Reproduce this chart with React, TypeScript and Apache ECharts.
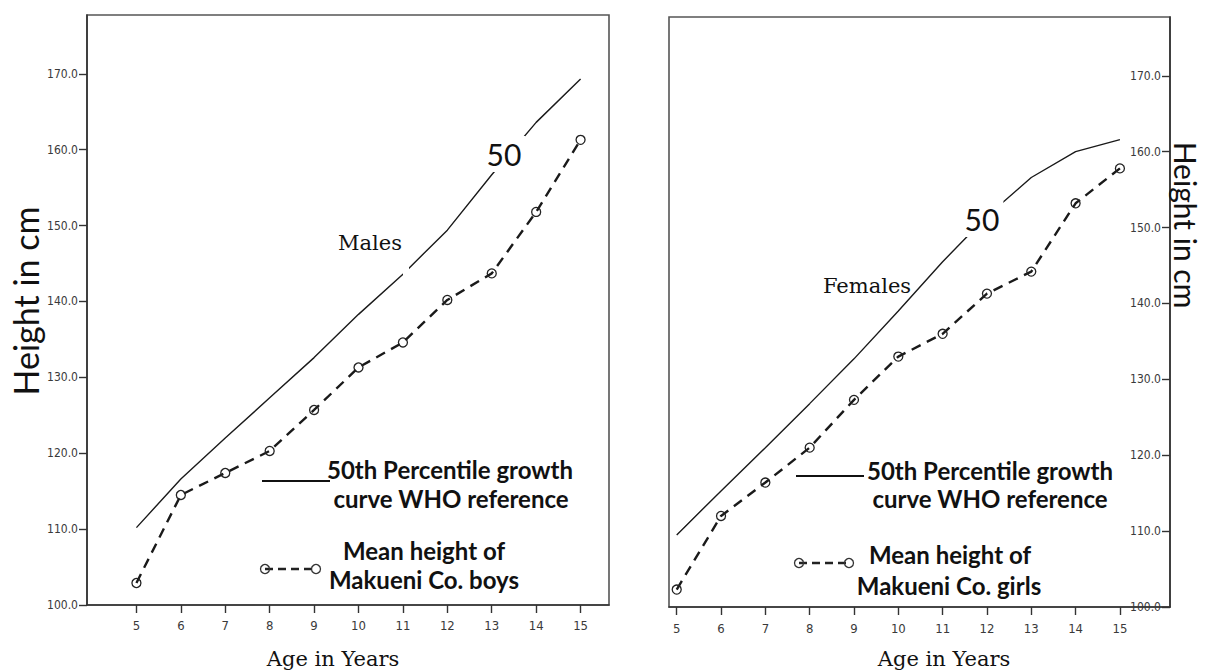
import React, { useEffect, useRef } from "react";
import * as echarts from "echarts";

const ages = [5, 6, 7, 8, 9, 10, 11, 12, 13, 14, 15];
const yTicks = [100, 110, 120, 130, 140, 150, 160, 170];
const maleWho = [110.2, 116.6, 122.0, 127.3, 132.6, 138.3, 143.6, 149.4, 156.7, 163.6, 169.3];
const maleMean = [102.9, 114.5, 117.4, 120.3, 125.7, 131.3, 134.6, 140.2, 143.7, 151.8, 161.3];
const femaleWho = [109.5, 115.3, 121.0, 126.8, 132.7, 139.0, 145.5, 151.5, 156.6, 160.0, 161.6];
const femaleMean = [102.3, 112.0, 116.4, 121.0, 127.3, 133.0, 136.0, 141.3, 144.2, 153.2, 157.8];

const tickFont = "'Liberation Sans Narrow', 'DejaVu Sans Condensed', sans-serif";
const axisColor = "#333";

function xAxisCfg(gridIndex: number, min: number, max: number, margin: number) {
  return {
    gridIndex,
    type: "value",
    min,
    max,
    axisLine: { show: true, onZero: false, lineStyle: { color: axisColor, width: 1.6 } },
    axisTick: { show: true, customValues: ages, length: 8, lineStyle: { color: axisColor, width: 1.4 } },
    axisLabel: { customValues: ages, margin, fontFamily: tickFont, fontSize: 13, color: "#3a3a3a" },
    splitLine: { show: false },
  };
}

function yAxisCfg(gridIndex: number, position: string, inside: boolean) {
  return {
    gridIndex,
    type: "value",
    position,
    min: 100,
    max: 177.75,
    axisLine: { show: true, onZero: false, lineStyle: { color: axisColor, width: 1.6 } },
    axisTick: { show: true, inside, customValues: yTicks, length: 8, lineStyle: { color: axisColor, width: 1.4 } },
    axisLabel: {
      inside,
      customValues: yTicks,
      margin: 9,
      fontFamily: tickFont,
      fontSize: 12,
      color: "#3a3a3a",
      formatter: (v: number) => v.toFixed(1),
    },
    splitLine: { show: false },
  };
}

function whoSeries(idx: number, vals: number[]) {
  return {
    type: "line",
    xAxisIndex: idx,
    yAxisIndex: idx,
    data: ages.map((a, i) => [a, vals[i]]),
    showSymbol: false,
    symbol: "none",
    lineStyle: { color: "#1a1a1a", width: 1.4 },
    z: 2,
  };
}

function meanSeries(idx: number, vals: number[]) {
  return {
    type: "line",
    xAxisIndex: idx,
    yAxisIndex: idx,
    data: ages.map((a, i) => [a, vals[i]]),
    symbol: "circle",
    symbolSize: 9,
    itemStyle: { color: "rgba(255,255,255,0)", borderColor: "#222", borderWidth: 1.3 },
    lineStyle: { color: "#1a1a1a", width: 2.4, type: [10, 7] },
    z: 3,
  };
}

function txt(x: number, y: number, text: string, font: string, extra: any = {}) {
  return {
    type: "text",
    x,
    y,
    z: 100,
    ...extra,
    style: { text, font, fill: "#111", align: "center", verticalAlign: "middle", ...(extra.style || {}) },
  };
}

function legend(lx: number, ly: number, dx1: number, dx2: number, dy: number, t1: number[], t2: number[], m1: number[], m2: number[], who: string) {
  const bold = "bold 24px Lato";
  return [
    { type: "line", z: 100, shape: { x1: lx, y1: ly, x2: lx + 68, y2: ly }, style: { stroke: "#111", lineWidth: 2.2 } },
    txt(t1[0], t1[1], "50th Percentile growth", bold),
    txt(t2[0], t2[1], "curve WHO reference", bold),
    { type: "line", z: 100, shape: { x1: dx1, y1: dy, x2: dx2, y2: dy }, style: { stroke: "#222", lineWidth: 2.4, lineDash: [8, 5] } },
    { type: "circle", z: 101, shape: { cx: dx1, cy: dy, r: 4.5 }, style: { fill: "none", stroke: "#333", lineWidth: 1.3 } },
    { type: "circle", z: 101, shape: { cx: dx2, cy: dy, r: 4.5 }, style: { fill: "none", stroke: "#333", lineWidth: 1.3 } },
    txt(m1[0], m1[1], "Mean height of", bold),
    txt(m2[0], m2[1], "Makueni Co. " + who, bold),
  ];
}

export default function App() {
  const ref = useRef<HTMLDivElement>(null);
  useEffect(() => {
    if (!ref.current) return;
    const chart = echarts.init(ref.current, undefined, { renderer: "svg" });
    const serif = "21px 'DejaVu Serif', serif";
    chart.setOption({
      animation: false,
      backgroundColor: "#fff",
      grid: [
        { left: 87, top: 15, width: 522, height: 590, show: true, borderColor: "#555", borderWidth: 1.6 },
        { left: 669, top: 17, width: 501, height: 590, show: true, borderColor: "#555", borderWidth: 1.6 },
      ],
      xAxis: [xAxisCfg(0, 3.887, 15.64, 14), xAxisCfg(1, 4.826, 16.13, 15)],
      yAxis: [yAxisCfg(0, "left", false), yAxisCfg(1, "right", true)],
      series: [
        whoSeries(0, maleWho),
        meanSeries(0, maleMean),
        whoSeries(1, femaleWho),
        meanSeries(1, femaleMean),
      ],
      graphic: [
        txt(25, 301, "Height in cm", "34px Lato", { rotation: Math.PI / 2 }),
        txt(1186, 225, "Height in cm", "30px Lato", { rotation: -Math.PI / 2 }),
        txt(333, 659, "Age in Years", serif),
        txt(944, 659, "Age in Years", serif),
        txt(370, 243, "Males", serif),
        txt(867, 286, "Females", serif),
        txt(504, 154, "50", "30px Lato", { style: { backgroundColor: "#fff", padding: [3, 4] } }),
        txt(982, 219, "50", "30px Lato", { style: { backgroundColor: "#fff", padding: [3, 4] } }),
        { type: "rect", z: 50, shape: { x: 403, y: 266, width: 6, height: 9 }, style: { fill: "#fff" } },
        ...legend(262, 481, 265, 316, 569, [450, 469], [451, 498], [424, 550], [424, 579], "boys"),
        ...legend(796, 476, 799, 849, 563, [990, 470], [990, 498], [950, 554], [949, 585], "girls"),
      ],
    });
    return () => chart.dispose();
  }, []);
  return (
    <div
      ref={ref}
      style={{ position: "absolute", left: 0, top: 0, width: 1207, height: 671, background: "#fff" }}
    />
  );
}
